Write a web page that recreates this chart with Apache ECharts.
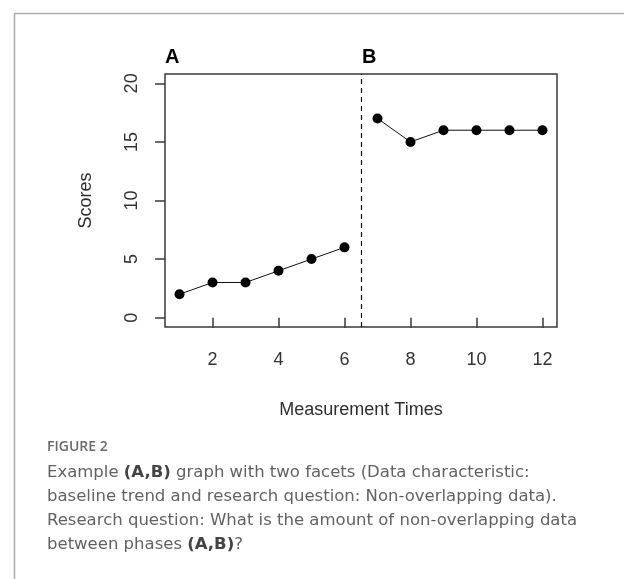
<!DOCTYPE html>
<html>
<head>
<meta charset="utf-8">
<script src="https://cdn.jsdelivr.net/npm/echarts@6/dist/echarts.min.js"></script>
<style>
html,body{margin:0;padding:0;background:#fff;}
#chart{width:624px;height:579px;}
</style>
</head>
<body>
<div id="chart"></div>
<script>
const phaseATimes = [1, 2, 3, 4, 5, 6];
const phaseAScores = [2, 3, 3, 4, 5, 6];
const phaseBTimes = [7, 8, 9, 10, 11, 12];
const phaseBScores = [17, 15, 16, 16, 16, 16];
const xTickValues = [2, 4, 6, 8, 10, 12];
const yTickValues = [0, 5, 10, 15, 20];
const phaseChange = 6.5;
const phaseLabels = ['A', 'B'];
const xTitle = 'Measurement Times';
const yTitle = 'Scores';
const captionHead = 'FIGURE 2';

const chart = echarts.init(document.getElementById('chart'), null, {renderer: 'canvas'});
const axisFont = 'Liberation Sans, Arial, sans-serif';
const capFont = '"DejaVu Sans", "Open Sans", sans-serif';
const headFont = '"Open Sans", "Noto Sans", sans-serif';

function pairs(xs, ys) { return xs.map((x, i) => [x, ys[i]]); }

const option = {
  animation: false,
  backgroundColor: '#ffffff',
  grid: {
    left: 165, top: 74, width: 392, height: 253,
    show: true, borderColor: '#3a3a3a', borderWidth: 1.5, backgroundColor: 'transparent'
  },
  xAxis: {
    type: 'value', min: 0.56, max: 12.44,
    name: xTitle, nameLocation: 'middle', nameGap: 74,
    nameTextStyle: {fontFamily: axisFont, fontSize: 18, color: '#2e2e2e'},
    axisLine: {show: false},
    splitLine: {show: false},
    axisTick: {show: true, length: 10, customValues: xTickValues, lineStyle: {color: '#3a3a3a', width: 1.5}},
    axisLabel: {customValues: xTickValues, fontFamily: axisFont, fontSize: 18, color: '#333', margin: 24}
  },
  yAxis: {
    type: 'value', min: -0.8, max: 20.8,
    name: yTitle, nameLocation: 'middle', nameGap: 70, nameRotate: 90,
    nameTextStyle: {fontFamily: axisFont, fontSize: 18, color: '#2e2e2e'},
    axisLine: {show: false},
    splitLine: {show: false},
    axisTick: {show: true, length: 10, customValues: yTickValues, lineStyle: {color: '#3a3a3a', width: 1.5}},
    axisLabel: {customValues: yTickValues, rotate: 90, fontFamily: axisFont, fontSize: 18, color: '#333', margin: 24}
  },
  series: [
    {
      type: 'line', data: pairs(phaseATimes, phaseAScores),
      symbol: 'circle', symbolSize: 10,
      itemStyle: {color: '#000'}, lineStyle: {color: '#111', width: 1},
      markLine: {
        silent: true, symbol: ['none', 'none'], label: {show: false},
        lineStyle: {color: '#111', type: [5, 4], width: 1.2},
        data: [{xAxis: phaseChange}]
      }
    },
    {
      type: 'line', data: pairs(phaseBTimes, phaseBScores),
      symbol: 'circle', symbolSize: 10,
      itemStyle: {color: '#000'}, lineStyle: {color: '#111', width: 1}
    }
  ],
  graphic: [
    {type: 'line', shape: {x1: 14, y1: 13.5, x2: 624, y2: 13.5}, style: {stroke: '#aaaaaa', lineWidth: 1.5}},
    {type: 'line', shape: {x1: 14.5, y1: 13, x2: 14.5, y2: 579}, style: {stroke: '#aaaaaa', lineWidth: 1.5}},
    {type: 'text', left: 165, top: 47, style: {text: phaseLabels[0], font: 'bold 20px ' + axisFont, fill: '#000'}},
    {type: 'text', left: 362, top: 47, style: {text: phaseLabels[1], font: 'bold 20px ' + axisFont, fill: '#000'}},
    {type: 'text', left: 47, top: 440, style: {text: captionHead, font: '600 14px ' + headFont, fill: '#6a6a6a'}},
    {type: 'text', left: 47, top: 461, style: {
      text: 'Example {b|(A,B)} graph with two facets (Data characteristic:\nbaseline trend and research question: Non-overlapping data).\nResearch question: What is the amount of non-overlapping data\nbetween phases {b|(A,B)}?',
      font: '16.5px ' + capFont, fill: '#626262', lineHeight: 24,
      rich: {b: {fontFamily: capFont, fontSize: 16.5, fontWeight: 'bold', fill: '#444', lineHeight: 24}}
    }}
  ]
};
chart.setOption(option);
</script>
</body>
</html>
